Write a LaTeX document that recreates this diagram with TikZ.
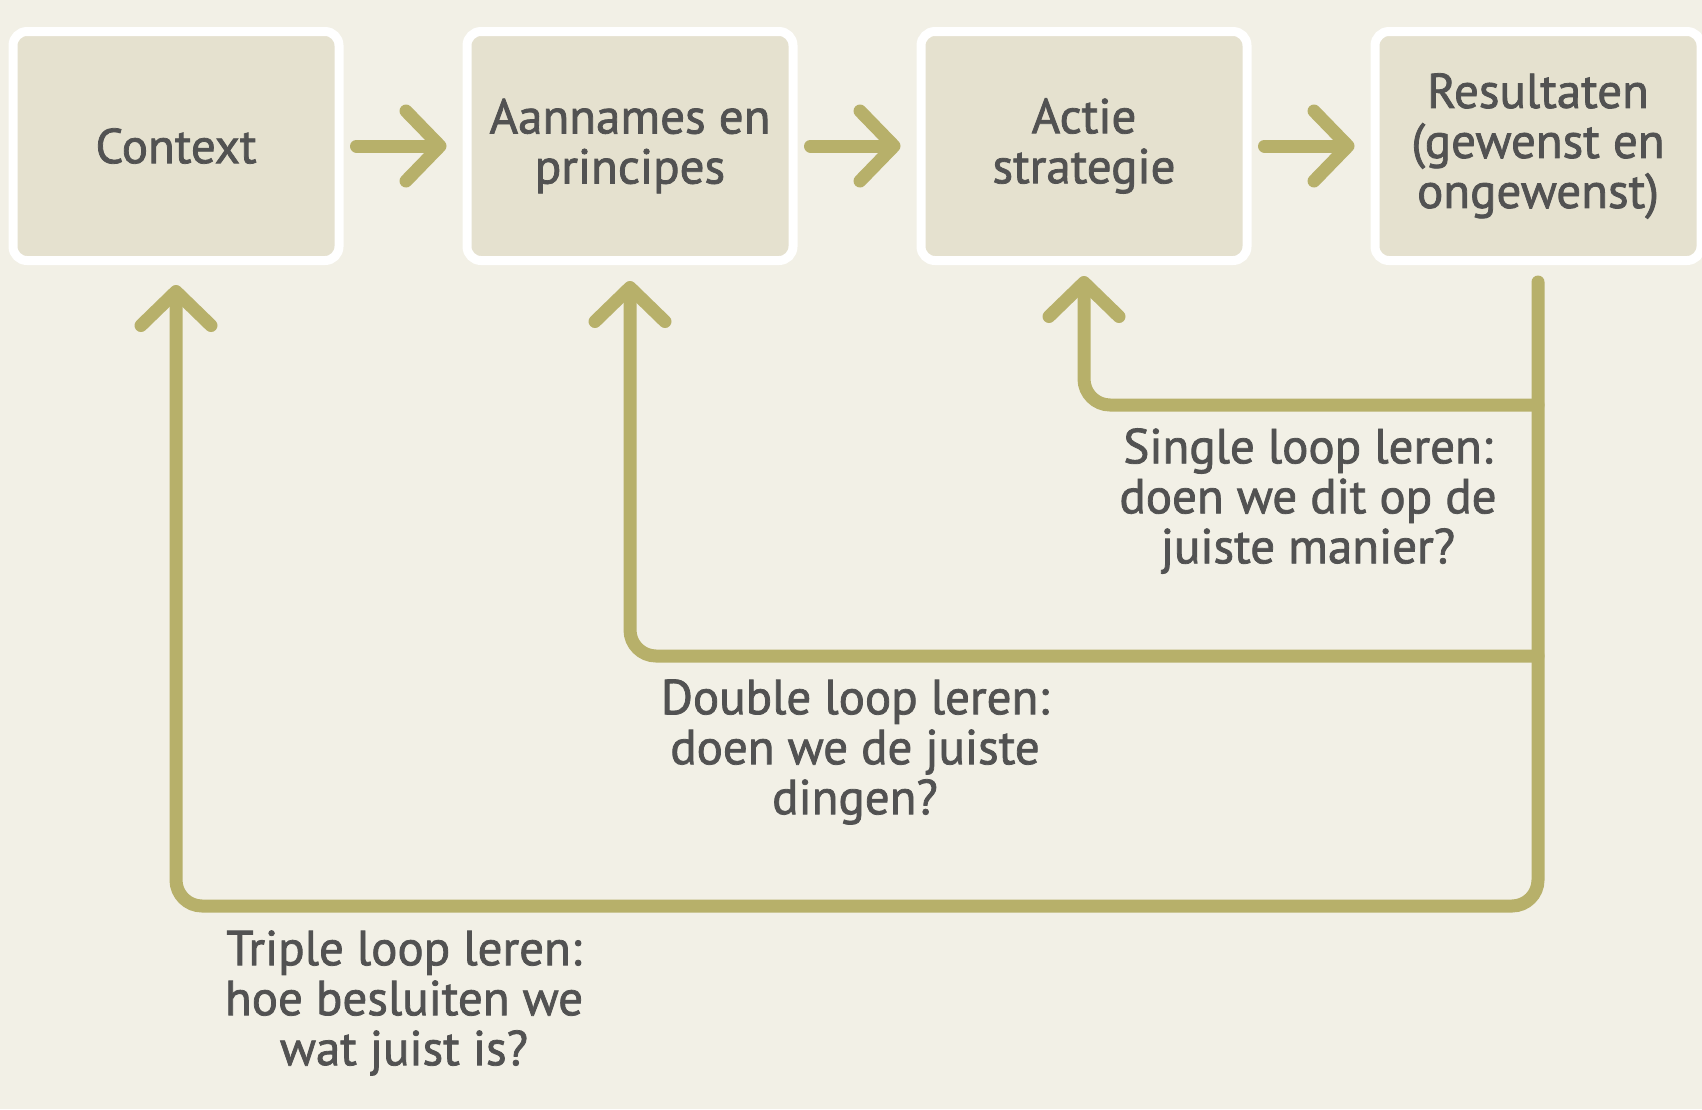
\documentclass[tikz,border=0pt]{standalone}
\usepackage{fontspec}
\setmainfont{PT Sans}
\newfontfamily\lblfont{PT Sans}[FakeBold=1.6]
\usetikzlibrary{arrows.meta,positioning}
\definecolor{bgcol}{RGB}{242,240,230}
\definecolor{boxcol}{RGB}{229,225,207}
\definecolor{loopcol}{RGB}{183,176,106}
\definecolor{txtcol}{RGB}{82,82,82}
\tikzset{
	stap/.style={draw=white, line width=9pt, fill=boxcol, rounded corners=14pt, minimum width=326pt, minimum height=229pt, align=center, text=txtcol, font=\lblfont\fontsize{49}{50}\selectfont},
	pijl/.style={draw=loopcol, line width=13pt, line cap=round, rounded corners=26pt, -{Straight Barb[length=34pt,width=70pt,round]}},
	uitleg/.style={align=center, text=txtcol, font=\lblfont\fontsize{49}{50}\selectfont}
}
\begin{document}
\begin{tikzpicture}[x=1pt,y=-1pt]
		\useasboundingbox (0,0) rectangle (1702,1109);
		\fill[bgcol] (0,0) rectangle (1702,1109);
		\node[stap] (ctx) at (176,146) {Context};
		\node[stap, right=119pt of ctx] (aan) {Aannames en\\principes};
		\node[stap, right=119pt of aan] (act) {Actie\\strategie};
		\node[stap, right=119pt of act] (res) {Resultaten\\(gewenst en\\ongewenst)};
		\draw[pijl] ([xshift=13pt]ctx.east) -- ([xshift=-16pt]aan.west);
		\draw[pijl] ([xshift=13pt]aan.east) -- ([xshift=-16pt]act.west);
		\draw[pijl] ([xshift=13pt]act.east) -- ([xshift=-16pt]res.west);
		\draw[pijl] ([yshift=-17pt]res.south) -- (res.south |- 0,906) -- (ctx.south |- 0,906) -- ([yshift=-20pt]ctx.south);
		\draw[pijl] (res.south |- 0,656) -- (aan.south |- 0,656) -- ([yshift=-16pt]aan.south);
		\draw[pijl] (res.south |- 0,405) -- (act.south |- 0,405) -- ([yshift=-11pt]act.south);
		\node[uitleg] (single) at (1308,501) {Single loop leren:\\doen we dit op de\\juiste manier?};
		\node[uitleg] (double) at (855,752) {Double loop leren:\\doen we de juiste\\dingen?};
		\node[uitleg] (triple) at (404,1003) {Triple loop leren:\\hoe besluiten we\\wat juist is?};
	\end{tikzpicture}
\end{document}
